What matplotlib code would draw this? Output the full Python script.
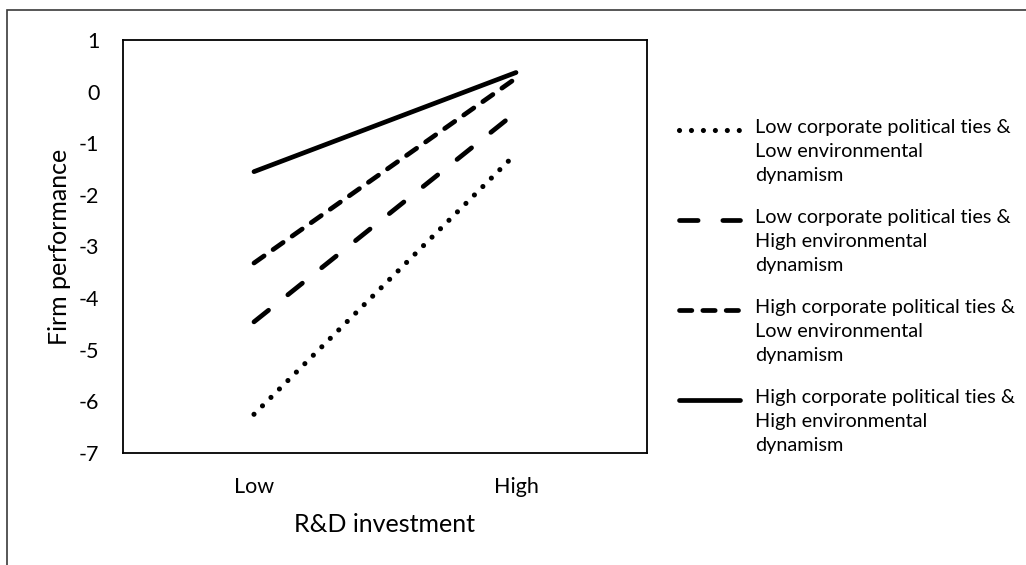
import matplotlib
matplotlib.use('Agg')
import matplotlib.pyplot as plt
from matplotlib.lines import Line2D
from matplotlib.patches import Rectangle

plt.rcParams['font.family'] = ['Lato', 'DejaVu Sans']
plt.rcParams['lines.scale_dashes'] = False

# data
rd_levels = ['Low', 'High']
series_names = ['Low corporate political ties &\nLow environmental\ndynamism',
                'Low corporate political ties &\nHigh environmental\ndynamism',
                'High corporate political ties &\nLow environmental\ndynamism',
                'High corporate political ties &\nHigh environmental\ndynamism']
low_low = [-6.25, -1.2]
low_high = [-4.46, -0.4]
high_low = [-3.32, 0.26]
high_high = [-1.55, 0.37]
yticks = [1, 0, -1, -2, -3, -4, -5, -6, -7]

series = [low_low, low_high, high_low, high_high]
styles = [(0, (0.01, 8.6)),
          (0, (13.4, 17.8)),
          (0, (8.9, 7.9)),
          '-']
widths = [3.7, 3.4, 3.4, 3.4]

W, H = 1026, 565
fig = plt.figure(figsize=(W / 100, H / 100), dpi=100)

# outer chart border (cut off at right and bottom)
fig.add_artist(Rectangle((7 / W, -0.2), 1.5, 1.2 - 10 / H, transform=fig.transFigure,
                         fill=False, edgecolor='#3a3a3a', linewidth=1.2))

ax = fig.add_axes([123 / W, (H - 453) / H, 524 / W, 413 / H])
x = list(range(len(rd_levels)))
for vals, ls, lw in zip(series, styles, widths):
    ax.plot(x, vals, color='black', linewidth=lw, linestyle=ls,
            solid_capstyle='round', dash_capstyle='round')

ax.set_xlim(-0.5, 1.5)
ax.set_ylim(-7, 1)
ax.set_xticks(x)
ax.set_xticklabels(rd_levels)
ax.set_yticks(yticks)
ax.set_yticklabels([str(v) for v in yticks])
ax.tick_params(length=0, labelsize=15.5, colors='black')
ax.tick_params(axis='y', pad=17)
ax.tick_params(axis='x', pad=17)
for s in ax.spines.values():
    s.set_linewidth(1.3)
    s.set_color('black')

ax.set_xlabel('R&D investment', fontsize=18, va='center')
ax.xaxis.set_label_coords(0.5, (453 - 525) / 413)
ax.set_ylabel('Firm performance', fontsize=18, va='center', ha='center')
ax.yaxis.set_label_coords((59 - 123) / 524, 0.5)

# legend, handle aligned with first text line
for i, ls in enumerate(styles):
    ypx = 130 + 90 * i
    yy = 1 - ypx / H
    fig.add_artist(Line2D([679 / W, 740 / W], [yy, yy], transform=fig.transFigure,
                          color='black', linewidth=widths[i], linestyle=ls,
                          solid_capstyle='round', dash_capstyle='round'))
    fig.text(755 / W, 1 - (ypx - 11) / H, series_names[i], fontsize=14.3, va='top',
             ha='left', linespacing=1.5,
             transform=fig.transFigure)

fig.savefig('out.png', dpi=100)
